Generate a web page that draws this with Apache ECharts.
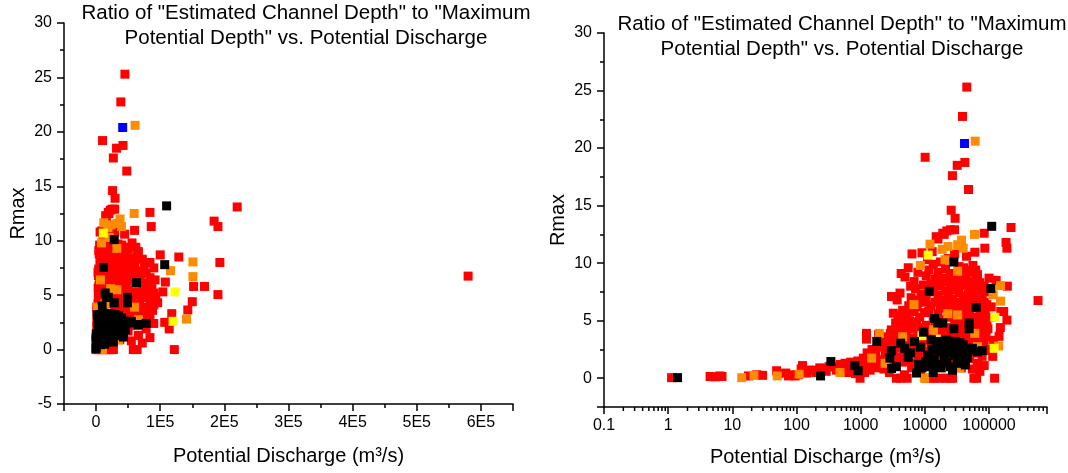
<!DOCTYPE html>
<html>
<head>
<meta charset="utf-8">
<script src="https://cdn.jsdelivr.net/npm/echarts@6/dist/echarts.min.js"></script>
<style>
  html, body { margin: 0; padding: 0; background: #fff; }
  #chart { width: 1068px; height: 473px; }
</style>
</head>
<body>
<div id="chart"></div>
<script>
// Rmax vs potential discharge (m3/s) -- same points on a linear and a log axis
var redPoints = [
	[45000,25.3],[38600,22.75],[10100,19.2],[42000,18.75],[31900,18.5],[26900,17.6],[47900,16.4],[25700,14.6],[29600,13.9],
	[220000,13.1],[84000,12.6],[184000,11.8],[190000,11.3],[86000,11.3],[580000,6.75],[193000,8.0],[190000,5.05],[169000,5.8],
	[152000,5.8],[150000,4.4],[143000,3.64],[122000,0],[129000,8.5],[100000,8.7],[108000,6.2],[104000,5.3],[96000,4.3],
	[118000,3.3],[107000,2.5],[114000,1.9],[58000,0],[64000,0],[60000,10.95],[44500,10.6],
	[1.13,0.05],[4.5,0.15],[5.4,0.12],[6.4,0.2],[6.9,0.15],[17.8,0.2],[29.6,0.25],[24,0.3],[49,0.65],[52,0.4],[68,0.45],
	[75,0.2],[83,0.3],[95,0.2],[106,0.3],[124,1.1],[118,0.8],[144,0.45],[160,0.7],[182,0.7],[200,0.5],[230,0.9],[263,0.85],
	[290,0.6],[320,1.0],[398,1.0],[420,0.7],[480,1.2],[520,0.8],[570,1.3],[610,0.9],[650,0.5],[700,1.4],[760,1.0],[830,0.4],
	[900,1.5],[977,0],[1000,0.9],[1050,1.2],[1100,1.75],[1150,0.5],[1200,1.4],[1230,3.9],[1230,3.4],[1260,2.2],[1300,1.0],
	[1350,1.8],[1400,0.7],[1500,2.5],[1600,1.3],[1700,2.0],[1800,0.9],[1900,3.8],[1950,2.7],[2100,1.6],[2200,3.0],[2300,0.8],
	[2400,2.3],[2500,3.6],[2600,1.2],[2700,2.8],[2800,0.5],[2900,3.9],
	[3020,7.1],[3220,5.65],[4270,9.1],[6300,10.8],[7160,7.8],[5200,5.2],[8150,6.8],[3000,4.2],[3100,3.3],[3200,2.1],[3300,1.1],
	[3400,3.8],[3500,4.8],[3600,0],[3700,2.6],[3800,5.3],[3900,1.8],[4000,3.9],[4100,4.6],[4200,0],[4300,2.9],[4400,5.5],
	[4500,1.4],[4600,3.4],[4700,4.9],[4800,0.3],[4900,2.2],[5000,5.6],[5100,3.8],[5300,0],[5400,4.4],[5500,1.6],[5600,2.9],
	[5800,5.0],[6000,3.5],[6200,0.9],[6400,4.3],[6600,2.4],[6800,5.8],[7000,3.1],[7200,1.3],[7400,4.9],[7600,6.2],[7800,2.0],
	[8000,3.7],[8300,5.3],[8600,0.6],[8800,4.4],[9000,2.8],[9200,6.6],[9500,3.3],[9800,1.5],[9900,5.7],[4500,5.9],[5600,6.3],
	[6100,7.0],[5000,4.3],[9000,10.9],[11000,10.3],[13000,11.0],[15000,12.3],[20000,12.5],[22000,12.8],
	[3700,6.8],[4100,7.4],[4900,8.8],[5500,9.6],[6800,8.4],[7800,9.2],[8700,7.3],[9500,8.1],[6000,8.0],
	[10500,0],[10500,2.3],[10500,4.6],[10500,6.9],[10500,8.9],
	[11500,1.2],[11500,3.4],[11500,5.8],[11500,7.5],[11500,9.4],
	[12500,0],[12500,2.7],[12500,4.1],[12500,6.3],[12500,8.2],
	[13500,1.8],[13500,3.9],[13500,5.2],[13500,7.9],[13500,9.9],
	[14500,0],[14500,2.5],[14500,4.5],[14500,6.6],[14500,8.6],
	[16000,1.1],[16000,3.2],[16000,5.6],[16000,7.2],[16000,9.2],[16000,12.1],
	[17500,0],[17500,2.1],[17500,4.2],[17500,6.1],[17500,8.0],[17500,10.1],
	[19000,1.5],[19000,3.6],[19000,5.1],[19000,6.8],[19000,8.7],[19000,12.6],
	[21000,0],[21000,2.6],[21000,4.4],[21000,6.4],[21000,7.6],[21000,9.5],
	[23000,1.3],[23000,3.0],[23000,5.3],[23000,7.0],[23000,8.4],[23000,10.4],
	[25000,0],[25000,2.2],[25000,4.0],[25000,5.9],[25000,7.7],[25000,9.1],[25000,12.9],
	[27000,0],[27000,1.6],[27000,3.5],[27000,5.5],[27000,6.9],[27000,8.2],
	[29000,2.8],[29000,4.7],[29000,6.3],[29000,7.9],[29000,10.8],[29000,12.9],
	[31000,1.1],[31000,3.9],[31000,5.0],[31000,6.6],[31000,8.8],
	[34000,2.4],[34000,4.3],[34000,5.7],[34000,7.4],[34000,9.7],
	[37000,0.9],[37000,3.1],[37000,4.9],[37000,6.0],[37000,8.1],
	[40000,2.0],[40000,3.8],[40000,5.4],[40000,7.1],[40000,9.6],
	[43000,1.4],[43000,4.1],[43000,6.5],[43000,8.5],
	[47000,2.6],[47000,3.5],[47000,5.2],[47000,7.3],[47000,9.4],
	[50000,1.7],[50000,3.3],[50000,5.5],[50000,7.6],[50000,9.2],
	[55000,0.8],[55000,2.9],[55000,4.6],[55000,6.7],[55000,8.4],
	[60000,2.2],[60000,4.0],[60000,6.3],[60000,8.0],
	[66000,1.3],[66000,3.6],[66000,5.3],[66000,7.2],[66000,9.0],
	[72000,0.6],[72000,2.7],[72000,4.8],[72000,6.0],[72000,8.3],
	[78000,1.9],[78000,3.9],[78000,5.6],[78000,7.0],
	[84000,1.1],[84000,3.2],[84000,4.5],[84000,6.6],[84000,8.0],
	[90000,2.4],[90000,4.1],[90000,5.2],[90000,7.5],
	[32000,2.0],[33000,6.2],[35000,8.3],[36000,4.6],[38000,5.8],[39000,3.4],[41000,6.8],[42000,8.9],[44000,5.0],[45000,3.1],
	[46000,6.1],[48000,8.1],[51000,4.3],[52000,6.5],[53000,2.4],[54000,7.9],[57000,5.3],[58000,3.5],[59000,7.1],[62000,5.0],
	[63000,2.9],[64000,8.6],[68000,4.2],[69000,6.6],[70000,2.2],[74000,5.1],[75000,7.6],[76000,3.4],[80000,4.8],[81000,6.1],
	[82000,2.8],[87000,5.6],[88000,3.6],[92000,6.4],[93000,4.9],[62000,9.4],[56000,9.8]
];
var orangePoints = [
	[14,0.05],[21.7,0.25],[50,0.2],[110,0.35],[476,0.5],[1480,1.75],[1950,3.9],[2400,1.3],[6760,6.4],[8500,9.8],
	[12000,11.65],[18600,11.2],[23000,11.45],[20600,10.3],[32400,11.6],[37300,12.0],[39600,11.3],[32400,9.3],[59400,12.5],
	[60800,20.6],[116000,7.25],[151000,8.05],[151000,6.7],[141000,2.8],[22800,5.6],[32400,5.5],[13600,4.2],[60000,3.9],
	[35000,0.9],[9900,0],[4500,3.6],[66000,2.75]
];
var yellowPoints = [[11250,10.7],[123000,5.3],[120000,2.6],[15000,3.4],[9000,3.7]];
var blackPoints = [
	[1.4,0.05],[237,0.2],[343,1.45],[810,1.1],[912,0.65],[1780,3.2],[2850,1.75],[3000,2.4],[3020,0.85],[3600,1.0],
	[4200,3.05],[4850,2.6],[6900,3.2],[7400,0.45],[9500,4.0],[10300,1.45],[11700,7.55],[12600,3.35],[14200,5.2],[15900,4.8],
	[19000,4.8],[28300,4.3],[28300,10.1],[49000,4.8],[49000,4.3],[23000,3.2],[29500,3.2],[40000,2.9],[44500,2.6],[53000,2.45],
	[36000,1.6],[42600,1.15],[27000,0.7],[63000,6.15],[78000,2.4],[107000,7.8],[110000,13.2],
	[5500,1.8],[6000,2.2],[8000,1.2],[8500,2.7],[9000,0.9],[11000,2.0],[12000,1.0],[13000,2.5],[14000,1.7],[15000,2.9],
	[16000,1.2],[17000,2.3],[18000,0.9],[20000,1.9],[21000,2.7],[22000,1.4],[24000,2.2],[25000,1.0],[26000,2.8],[30000,2.0],
	[32000,1.3],[33000,2.6],[35000,3.1],[38000,2.2],[46000,1.8],[55000,2.6],[66000,2.3],[16500,3.2],[19500,2.6],[21500,3.3],
	[13500,0.5]
];
var bluePoints = [[41500,20.4]];

var seriesColors = ['#FF0000','#FF8C00','#FFFF00','#000000','#0000FF'];
var seriesData = [redPoints, orangePoints, yellowPoints, blackPoints, bluePoints];
var logMantissas = [2,3,4,5,6,7,8,9];
var logDecades = [0.1,1,10,100,1000,10000,100000];

var titleText = 'Ratio of "Estimated Channel Depth" to "Maximum\nPotential Depth" vs. Potential Discharge';
var xName = 'Potential Discharge (m\u00B3/s)';
var FONT = '"Liberation Sans", Arial, sans-serif';

function $each(arr, fn){ for (var i = 0; i < arr.length; i++) fn(arr[i], i); }

var minorLog = [];
$each(logDecades, function(d){
	$each(logMantissas, function(m){
		var v = +(d*m).toPrecision(3);
		if (v < 800000) minorLog.push([v, -2.5]);
	});
});

function axisCommon(){
	return {
		axisLine: { show: true, onZero: false, lineStyle: { color: '#000', width: 1.5 } },
		axisTick: { show: true, inside: false, length: 7, lineStyle: { color: '#000', width: 1.5 } },
		splitLine: { show: false },
		axisLabel: { color: '#000', fontSize: 16, fontFamily: FONT }
	};
}

var xLin = axisCommon();
xLin.gridIndex = 0; xLin.type = 'value'; xLin.min = -50000; xLin.max = 650000; xLin.splitNumber = 7;
xLin.minorTick = { show: true, splitNumber: 2, length: 4, lineStyle: { color: '#000', width: 1.5 } };
xLin.axisLabel.margin = 11;
xLin.axisLabel.formatter = function(v){
	if (v === 0) return '0';
	if (v % 100000 !== 0 || v < 0) return '';
	return (v/100000) + 'E5';
};
xLin.name = xName; xLin.nameLocation = 'middle'; xLin.nameGap = 42;
xLin.nameTextStyle = { color: '#000', fontSize: 20, fontFamily: FONT };

var xLog = axisCommon();
xLog.gridIndex = 1; xLog.type = 'log'; xLog.logBase = 10; xLog.min = 0.1; xLog.max = 800000; xLog.splitNumber = 7;
xLog.axisLabel.margin = 11;
xLog.axisLabel.formatter = function(v){
	var l = Math.log(v)/Math.LN10;
	if (Math.abs(l - Math.round(l)) > 1e-6) return '';
	return String(+v.toPrecision(3));
};
xLog.name = xName; xLog.nameLocation = 'middle'; xLog.nameGap = 40;
xLog.nameTextStyle = { color: '#000', fontSize: 20, fontFamily: FONT };

var yLin = axisCommon();
yLin.gridIndex = 0; yLin.type = 'value'; yLin.min = -5; yLin.max = 30; yLin.interval = 5;
yLin.minorTick = { show: true, splitNumber: 2, length: 4, lineStyle: { color: '#000', width: 1.5 } };
yLin.axisLabel.margin = 12;
yLin.name = 'Rmax'; yLin.nameLocation = 'middle'; yLin.nameGap = 36;
yLin.nameTextStyle = { color: '#000', fontSize: 20, fontFamily: FONT };

var yLog = axisCommon();
yLog.gridIndex = 1; yLog.type = 'value'; yLog.min = -2.5; yLog.max = 30; yLog.splitNumber = 7;
yLog.minorTick = { show: true, splitNumber: 2, length: 4, lineStyle: { color: '#000', width: 1.5 } };
yLog.axisLabel.margin = 12;
yLog.axisLabel.formatter = function(v){ return (v % 5 === 0) ? String(v) : ''; };
yLog.name = 'Rmax'; yLog.nameLocation = 'middle'; yLog.nameGap = 36;
yLog.nameTextStyle = { color: '#000', fontSize: 20, fontFamily: FONT };

var series = [];
$each([0,1], function(g){
	$each(seriesData, function(d, k){
		series.push({
			type: 'scatter',
			xAxisIndex: g, yAxisIndex: g,
			symbol: 'rect', symbolSize: 9,
			itemStyle: { color: seriesColors[k], opacity: 1 },
			data: d,
			silent: true,
			z: 2 + k
		});
	});
});
// log-axis minor ticks at 2..9 of each decade
series.push({
	type: 'custom',
	xAxisIndex: 1, yAxisIndex: 1,
	clip: false, silent: true, z: 10,
	data: minorLog,
	renderItem: function(params, api){
		var p = api.coord([api.value(0), api.value(1)]);
		return { type: 'line', shape: { x1: p[0], y1: p[1], x2: p[0], y2: p[1] + 4 },
			style: { stroke: '#000', lineWidth: 1.5 } };
	}
});

var myChart = echarts.init(document.getElementById('chart'), null, { renderer: 'canvas' });
myChart.setOption({
	animation: false,
	backgroundColor: '#fff',
	grid: [
		{ left: 64, top: 23, width: 449, height: 381 },
		{ left: 604, top: 33, width: 443, height: 374 }
	],
	xAxis: [xLin, xLog],
	yAxis: [yLin, yLog],
	graphic: [
		{ type: 'text', x: 306, y: 1, style: { text: titleText, align: 'center', verticalAlign: 'top', font: '20.5px ' + FONT, lineHeight: 25, fill: '#000' } },
		{ type: 'text', x: 842, y: 12, style: { text: titleText, align: 'center', verticalAlign: 'top', font: '20.5px ' + FONT, lineHeight: 25, fill: '#000' } }
	],
	series: series
});
</script>
</body>
</html>
